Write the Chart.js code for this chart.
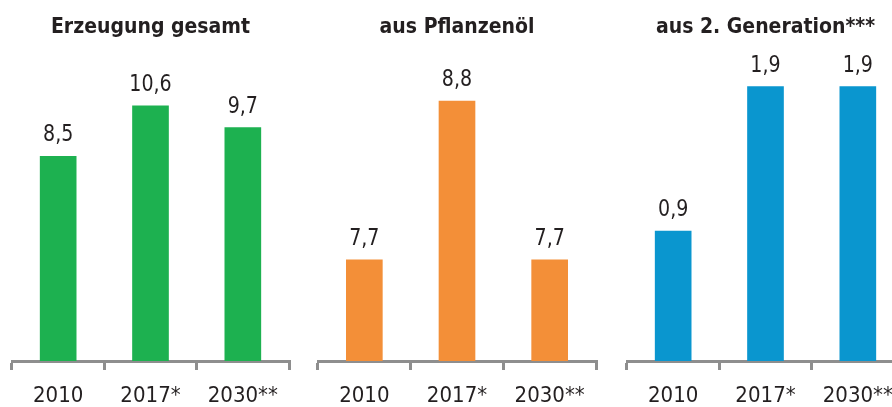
<!DOCTYPE html>
<html>
<head>
<meta charset="utf-8">
<script src="https://cdn.jsdelivr.net/npm/chart.js@4"></script>
<style>
    html, body { margin: 0; padding: 0; background: #fff; overflow: hidden; }
    body { width: 892px; height: 407px; position: relative; }
    .panel { position: absolute; top: 0; width: 300px; height: 407px; overflow: hidden; }
</style>
</head>
<body>
<div class="panel" style="left:0px"><canvas id="c1" width="300" height="422"></canvas></div>
<div class="panel" style="left:306px"><canvas id="c2" width="300" height="422"></canvas></div>
<div class="panel" style="left:615px"><canvas id="c3" width="300" height="422"></canvas></div>
<script>
const categories = ["2010", "2017*", "2030**"];
const titles = ["Erzeugung gesamt", "aus Pflanzenöl", "aus 2. Generation***"];
const gesamt = [8.5, 10.6, 9.7];
const pflanzenoel = [7.7, 8.8, 7.7];
const generation2 = [0.9, 1.9, 1.9];
const yMin = [0, 7, 0];
const yMax = [12, 9, 2];

const barColors = ["#1db150", "#f38f38", "#0a96cf"];
const textColor = "#231f20";
const axisColor = "#8e8e8e";
const fontFamily = "'Liberation Sans Narrow', 'DejaVu Sans Condensed', 'Liberation Sans', sans-serif";

// writes the value above each bar, German decimal comma
const valueLabels = {
    id: "valueLabels",
    afterDatasetsDraw(chart) {
        const ctx = chart.ctx;
        const ds = chart.data.datasets[0];
        chart.getDatasetMeta(0).data.forEach((bar, i) => {
            ctx.save();
            ctx.font = "23px " + fontFamily;
            ctx.fillStyle = textColor;
            ctx.textAlign = "center";
            ctx.textBaseline = "alphabetic";
            ctx.translate(bar.x, bar.y - 15);
            ctx.scale(0.92, 1);
            ctx.fillText(ds.data[i].toFixed(1).replace(".", ","), 0, 0);
            ctx.restore();
        });
    }
};

function makePanel(id, title, values, color, min, max, padRight) {
    new Chart(document.getElementById(id), {
        type: "bar",
        data: {
            labels: categories,
            datasets: [{
                data: values,
                backgroundColor: color,
                barThickness: 36
            }]
        },
        options: {
            responsive: false,
            animation: false,
            layout: { padding: { left: 12, right: padRight, top: 0, bottom: 0 } },
            plugins: {
                legend: { display: false },
                tooltip: { enabled: false },
                title: {
                    display: true,
                    text: title,
                    color: textColor,
                    font: { family: fontFamily, size: 21, weight: "bold", lineHeight: 1.2 },
                    padding: { top: 15, bottom: 32 }
                }
            },
            scales: {
                x: {
                    grid: {
                        offset: true,
                        drawOnChartArea: false,
                        drawTicks: true,
                        tickLength: 9,
                        color: axisColor,
                        lineWidth: 3
                    },
                    border: { display: true, color: axisColor, width: 3 },
                    ticks: {
                        color: textColor,
                        padding: 15,
                        font: { family: fontFamily, size: 22, lineHeight: 1.0 }
                    }
                },
                y: { display: false, min: min, max: max }
            }
        },
        plugins: [valueLabels]
    });
}

makePanel("c1", titles[0], gesamt, barColors[0], yMin[0], yMax[0], 11);
makePanel("c2", titles[1], pflanzenoel, barColors[1], yMin[1], yMax[1], 10);
makePanel("c3", titles[2], generation2, barColors[2], yMin[2], yMax[2], 11);
</script>
</body>
</html>
